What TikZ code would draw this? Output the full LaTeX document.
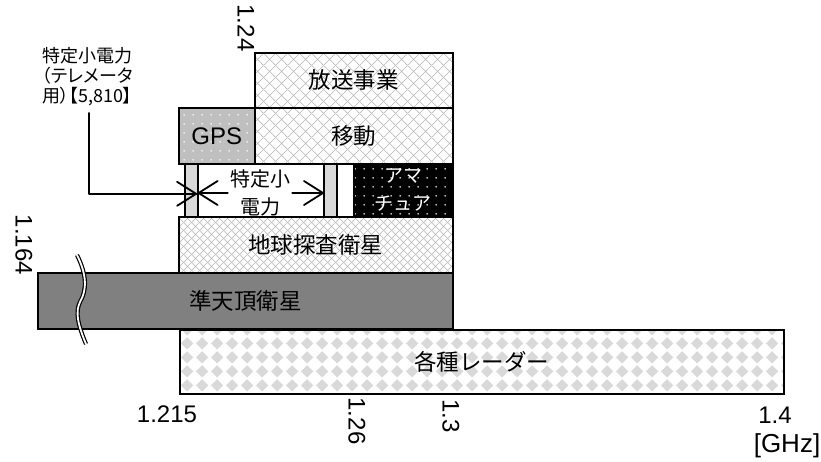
\documentclass[tikz,border=0pt]{standalone}
\usepackage{fontspec}
\setmainfont{Liberation Sans}
\newfontfamily\jpfont{Noto Sans CJK JP}
\newfontfamily\jpnarrow[RawFeature=+palt]{Noto Sans CJK JP}
\usetikzlibrary{patterns.meta}

\definecolor{gpsgray}{HTML}{BFBFBF}
\definecolor{qzgray}{HTML}{808080}
\definecolor{bargray}{HTML}{D9D9D9}
\definecolor{hatchgray}{HTML}{B4B4B4}

% hatch and dot patterns for the bands
\tikzdeclarepattern{name=widehatch, type=uncolored,
  bottom left={(0pt,0pt)}, top right={(12pt,12pt)}, tile size={(12pt,12pt)},
  code={\draw[line width=0.6pt] (-1pt,-1pt) -- (13pt,13pt) (-1pt,13pt) -- (13pt,-1pt);}}
\tikzdeclarepattern{name=densehatch, type=uncolored,
  bottom left={(0pt,0pt)}, top right={(8pt,8pt)}, tile size={(8pt,8pt)},
  code={\draw[line width=0.6pt] (-1pt,-1pt) -- (9pt,9pt) (-1pt,9pt) -- (9pt,-1pt);}}
\tikzdeclarepattern{name=sparsedots, type=uncolored,
  bottom left={(0pt,0pt)}, top right={(9pt,9pt)}, tile size={(9pt,9pt)},
  code={\fill (4.5pt,4.5pt) circle (0.9pt);}}
\tikzdeclarepattern{name=diamonds, type=uncolored,
  bottom left={(0pt,0pt)}, top right={(15pt,14pt)}, tile size={(15pt,14pt)},
  code={\fill (7.5pt,0.5pt) -- (14pt,7pt) -- (7.5pt,13.5pt) -- (1pt,7pt) -- cycle;}}

\begin{document}
\begin{tikzpicture}[x=1pt, y=-1pt,
    band/.style={draw, line width=1.6pt, inner sep=0pt, anchor=north west,
      font=\jpfont\fontsize{22.5}{26}\selectfont},
    filled/.style={postaction={pattern=#1}, postaction={draw, line width=1.6pt}},
    bar/.style={draw, line width=1.6pt, fill=bargray, inner sep=0pt, anchor=north west,
      minimum width=13pt, minimum height=53pt},
    tick/.style={inner sep=0pt, font=\fontsize{24}{26}\selectfont},
    conn/.style={line width=1.8pt, line cap=round, line join=round}]
    \useasboundingbox (0,0) rectangle (821,461);

    % Draw the bands
    \node[band, minimum width=604pt, minimum height=64pt, pattern color=bargray,
      filled=diamonds] (radar) at (179,329) {各種レーダー};
    \node[band, fill=qzgray, minimum width=415pt, minimum height=56pt] (qzss) at (37,272) {準天頂衛星};
    \node[band, minimum width=274pt, minimum height=56pt, pattern color=hatchgray,
      filled=densehatch] (eess) at (178,216) {地球探査衛星};
    \node[band, fill=gpsgray, minimum width=76pt, minimum height=56pt, pattern color=white,
      filled=sparsedots, font=\fontsize{24}{26}\selectfont] (gps) at (178,107) {GPS};
    \node[band, minimum width=198pt, minimum height=56pt, pattern color=hatchgray,
      filled=widehatch] (ido) at (254,107) {移動};
    \node[band, minimum width=198pt, minimum height=55pt, pattern color=hatchgray,
      filled=widehatch] (hoso) at (254,52) {放送事業};
    \node[band, fill=black, minimum width=99pt, minimum height=53pt, pattern color=white,
      filled=sparsedots, text=white, align=center,
      font=\jpfont\fontsize{19}{28}\selectfont] (ama) at (353,163) {アマ\\チュア};

    % Draw the small power bars
    \node[bar] (bar1) at (184,163) {};
    \node[bar] (bar2) at (323,163) {};
    \node[align=center, inner sep=2pt, font=\jpfont\fontsize{20}{28}\selectfont] (tokutei) at (260,193) {特定小\\電力};
    \coordinate (tipl) at (tokutei.west -| bar1.east);
    \coordinate (tipr) at (tokutei.east -| bar2.west);
    \draw[conn] (tokutei.west) -- (tipl);
    \draw[conn] ([xshift=19pt, yshift=12pt]tipl) -- (tipl) -- ([xshift=19pt, yshift=-12pt]tipl);
    \draw[conn] (tokutei.east) -- (tipr);
    \draw[conn] ([xshift=-19pt, yshift=12pt]tipr) -- (tipr) -- ([xshift=-19pt, yshift=-12pt]tipr);

    % Draw the telemeter label
    \node[align=left, anchor=north west, inner sep=0pt, font=\jpnarrow\fontsize{18}{20}\selectfont] (telelabel) at (42,47) {特定小電力\\（テレメータ\\用）【5,810】};
    \coordinate (tipt) at ([xshift=-2.5pt, yshift=-3.5pt]bar1.east);
    \draw[conn] ([xshift=2pt, yshift=-7pt]telelabel.south) |- (tipt);
    \draw[conn] ([xshift=-19pt, yshift=12pt]tipt) -- (tipt) -- ([xshift=-19pt, yshift=-12pt]tipt);

    % Draw the break mark
    \draw[line width=1.2pt, double=white, double distance=1.8pt]
      (77,255) .. controls (87,275) and (87,290) .. (80,302)
      .. controls (75,312) and (78,325) .. (86,344);

    % Draw the frequency labels
    \node[tick, rotate=-90] (f124) at (246,28) {1.24};
    \node[tick, rotate=-90] (f1164) at (24,245) {1.164};
    \node[tick] (f1215) at (167,414) {1.215};
    \node[tick, rotate=-90] (f126) at (357,421) {1.26};
    \node[tick, rotate=-90] (f13) at (451,416) {1.3};
    \node[tick] (f14) at (775,415) {1.4};
    \node[tick, font=\fontsize{26}{28}\selectfont] (ghz) at (787,446) {[GHz]};
\end{tikzpicture}
\end{document}
